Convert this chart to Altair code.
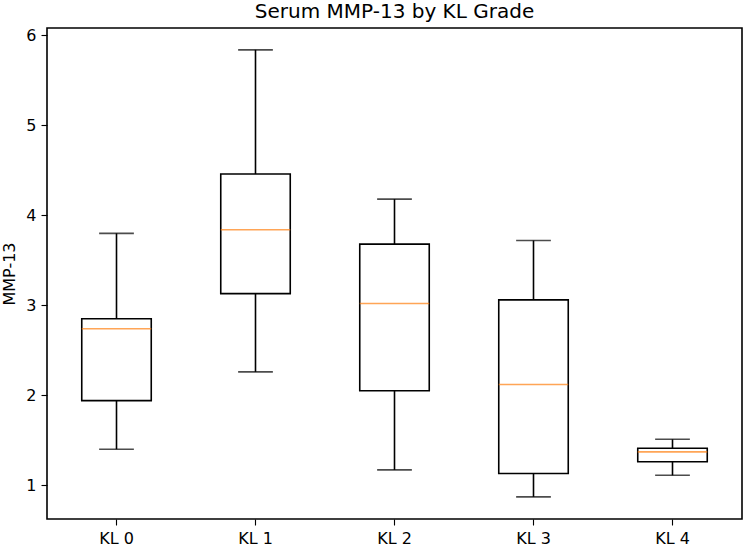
import altair as alt
import pandas as pd

# Box-plot summary statistics of serum MMP-13 per Kellgren-Lawrence grade
grades = ["KL 0", "KL 1", "KL 2", "KL 3", "KL 4"]
whisker_low = [1.40, 2.26, 1.17, 0.87, 1.11]
q1 = [1.94, 3.13, 2.05, 1.13, 1.26]
median = [2.74, 3.84, 3.02, 2.12, 1.37]
q3 = [2.85, 4.46, 3.68, 3.06, 1.41]
whisker_high = [3.80, 5.84, 4.18, 3.72, 1.51]

df = pd.DataFrame({
    "grade": grades,
    "lo": whisker_low,
    "q1": q1,
    "med": median,
    "q3": q3,
    "hi": whisker_high,
})

W, H = 695, 491
band = W / len(grades)
LW = 1.6
FONT = "DejaVu Sans"

x = alt.X("grade:N", sort=grades, title=None,
          scale=alt.Scale(paddingInner=0, paddingOuter=0),
          axis=alt.Axis(labelAngle=0, labelFontSize=16, labelFont=FONT,
                        labelColor="black", tickColor="black", tickSize=6,
                        tickWidth=LW * 0.7, labelPadding=5, domain=False,
                        grid=False))
yscale = alt.Scale(domain=[0.624, 6.083], nice=False, zero=False)
yaxis = alt.Axis(values=[1, 2, 3, 4, 5, 6], format="d", labelFontSize=16,
                 labelFont=FONT, labelColor="black", tickColor="black",
                 tickSize=6, tickWidth=LW * 0.7, labelPadding=5, domain=False,
                 grid=False, title="MMP-13", titleFontSize=16, titleFont=FONT,
                 titleFontWeight="normal", titleColor="black", titlePadding=8)

base = alt.Chart(df)

whisk_top = base.mark_rule(color="black", strokeWidth=LW).encode(
    x=x, y=alt.Y("q3:Q", scale=yscale, axis=yaxis), y2="hi:Q")
whisk_bot = base.mark_rule(color="black", strokeWidth=LW).encode(
    x=x, y=alt.Y("lo:Q", scale=yscale), y2="q1:Q")

box = base.mark_bar(fill="white", stroke="black", strokeWidth=LW,
                    size=band * 0.5).encode(
    x=x, y=alt.Y("q1:Q", scale=yscale), y2="q3:Q")

cap_hi = base.mark_tick(color="black", thickness=LW, size=band * 0.25).encode(
    x=x, y=alt.Y("hi:Q", scale=yscale))
cap_lo = base.mark_tick(color="black", thickness=LW, size=band * 0.25).encode(
    x=x, y=alt.Y("lo:Q", scale=yscale))
med = base.mark_tick(color="#ff7f0e", thickness=LW, size=band * 0.5).encode(
    x=x, y=alt.Y("med:Q", scale=yscale))

chart = alt.layer(whisk_top, whisk_bot, box, cap_hi, cap_lo, med).properties(
    width=W, height=H,
    title=alt.TitleParams("Serum MMP-13 by KL Grade", fontSize=20,
                          font=FONT, fontWeight="normal", color="black",
                          offset=5),
    autosize=alt.AutoSizeParams(type="none"),
    padding={"left": 47, "top": 28, "right": 2, "bottom": 28},
).configure(background="white").configure_view(stroke="black",
                                               strokeWidth=LW)

chart.save("out.html", embed_options={"renderer": "svg", "actions": False})
